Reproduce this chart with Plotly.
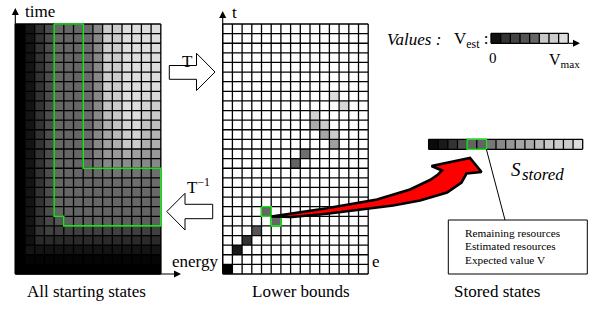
import plotly.graph_objects as go

# ---------------- data (gray level 0 = black ... 255 = white) ----------------
# "All starting states": 26 rows (top -> bottom) x 15 energy columns
start_values = [
    [0, 20, 51, 77, 102, 102, 102, 106, 136, 204, 204, 221, 221, 221, 221],
    [0, 20, 51, 77, 102, 102, 102, 106, 136, 204, 204, 221, 221, 221, 221],
    [0, 20, 51, 77, 102, 102, 102, 106, 136, 204, 204, 221, 221, 221, 221],
    [0, 20, 51, 77, 102, 102, 102, 106, 136, 204, 204, 221, 221, 221, 221],
    [0, 20, 51, 77, 102, 102, 102, 106, 136, 204, 204, 221, 221, 221, 221],
    [0, 20, 51, 77, 102, 102, 102, 106, 136, 204, 204, 221, 221, 221, 221],
    [0, 20, 51, 77, 102, 102, 102, 106, 136, 204, 204, 221, 221, 221, 221],
    [0, 20, 51, 77, 102, 102, 102, 106, 136, 200, 204, 221, 221, 215, 215],
    [0, 20, 51, 77, 102, 102, 102, 106, 136, 195, 204, 221, 221, 210, 204],
    [0, 20, 51, 77, 102, 102, 102, 106, 136, 187, 200, 218, 221, 204, 200],
    [0, 20, 51, 77, 102, 102, 102, 106, 136, 175, 195, 212, 218, 195, 190],
    [0, 20, 51, 77, 102, 102, 102, 106, 136, 165, 185, 204, 210, 185, 180],
    [0, 20, 51, 77, 102, 102, 102, 106, 136, 160, 175, 200, 204, 175, 175],
    [0, 20, 51, 77, 102, 102, 102, 106, 130, 150, 153, 170, 160, 153, 153],
    [0, 20, 51, 77, 102, 102, 102, 104, 119, 136, 136, 140, 136, 136, 136],
    [0, 20, 51, 77, 102, 102, 102, 102, 106, 110, 115, 110, 115, 110, 110],
    [0, 20, 51, 77, 102, 102, 102, 102, 102, 106, 106, 106, 110, 106, 106],
    [0, 20, 51, 77, 102, 102, 102, 102, 102, 102, 104, 104, 104, 104, 104],
    [0, 20, 51, 77, 102, 102, 102, 102, 102, 102, 102, 102, 102, 102, 102],
    [0, 20, 51, 77, 100, 100, 100, 100, 100, 100, 100, 100, 100, 100, 100],
    [0, 20, 51, 72, 85, 95, 95, 95, 95, 95, 95, 95, 95, 95, 95],
    [0, 20, 51, 64, 64, 64, 64, 64, 64, 64, 64, 64, 64, 64, 64],
    [0, 17, 42, 42, 42, 42, 42, 42, 42, 42, 42, 42, 42, 42, 42],
    [0, 20, 20, 20, 20, 20, 20, 20, 20, 20, 20, 20, 20, 20, 20],
    [0, 5, 5, 5, 5, 5, 5, 5, 5, 5, 5, 5, 5, 5, 5],
    [0, 0, 0, 0, 0, 0, 0, 0, 0, 0, 0, 0, 0, 0, 0],
]

# "Lower bounds": non-white cells (column, row from top, gray level)
lb_cols = [11, 12, 9, 9, 10, 10, 11, 11, 8, 7, 4, 5, 3, 2, 1, 0]
lb_rows = [7, 8, 9, 10, 10, 11, 11, 12, 13, 14, 19, 20, 21, 22, 23, 25]
lb_values = [220, 215, 210, 170, 204, 165, 204, 160, 110, 100, 102, 102, 85, 51, 26, 0]

# "Stored states" strip
stored_values = [10, 26, 51, 80, 100, 100, 119, 136, 150, 165, 170, 187, 200, 204, 204, 220]

# Value legend strip (V_est from 0 to V_max)
legend_values = [17, 51, 68, 85, 102, 200, 204, 221]

caption_labels = ["All starting states", "Lower bounds", "Stored states"]
box_lines = ["Remaining resources", "Estimated resources", "Expected value V"]

# ---------------- geometry / style ----------------
W, H = 605, 310
FONT = "Liberation Serif, Times New Roman, serif"
NCOL, NROW = 15, 26
CW, CH = 9.7, 250 / 26
LEFT_X0, MID_X0, GRID_Y0 = 15.3, 222.7, 24.0
STRIP_X0, STRIP_Y0, STRIP_CW, STRIP_H = 428.6, 139.3, 9.63, 10.0
LEG_X0, LEG_Y0, LEG_CW, LEG_H = 491.0, 33.3, 9.66, 10.0
GREEN = "#1ee01e"
GRAY = [[0, "#000000"], [1, "#ffffff"]]
LW = 1.3

fig = go.Figure()


def heat(z, x0, y0, cw, ch):
    fig.add_trace(go.Heatmap(z=z, x0=x0 + cw / 2, dx=cw, y0=y0 + ch / 2, dy=ch,
                             colorscale=GRAY, zmin=0, zmax=255, showscale=False,
                             hoverinfo="skip"))


def grid_lines(x0, y0, cw, ch, ncol, nrow, color="black", width=LW):
    xs, ys = [], []
    for i in range(ncol + 1):
        x = x0 + i * cw
        xs += [x, x, None]
        ys += [y0, y0 + nrow * ch, None]
    for j in range(nrow + 1):
        y = y0 + j * ch
        xs += [x0, x0 + ncol * cw, None]
        ys += [y, y, None]
    fig.add_trace(go.Scatter(x=xs, y=ys, mode="lines", line=dict(color=color, width=width),
                             hoverinfo="skip"))


def outline(verts, x0, y0, cw, ch, color=GREEN, width=1.6):
    fig.add_trace(go.Scatter(x=[x0 + c * cw for c, r in verts], y=[y0 + r * ch for c, r in verts],
                             mode="lines", line=dict(color=color, width=width), hoverinfo="skip"))


# left grid
heat(start_values, LEFT_X0, GRID_Y0, CW, CH)
grid_lines(LEFT_X0, GRID_Y0, CW, CH, NCOL, NROW)
outline([(4, 0), (7, 0), (7, 15), (15, 15), (15, 21), (5, 21), (5, 20), (4, 20), (4, 0)],
        LEFT_X0, GRID_Y0, CW, CH)

# middle grid
mid = [[255] * NCOL for _ in range(NROW)]
for c, r, v in zip(lb_cols, lb_rows, lb_values):
    mid[r][c] = v
heat(mid, MID_X0, GRID_Y0, CW, CH)
grid_lines(MID_X0, GRID_Y0, CW, CH, NCOL, NROW)
for c, r in [(4, 19), (5, 20)]:
    outline([(c, r), (c + 1, r), (c + 1, r + 1), (c, r + 1), (c, r)], MID_X0, GRID_Y0, CW, CH)

# stored strip
heat([stored_values], STRIP_X0, STRIP_Y0, STRIP_CW, STRIP_H)
grid_lines(STRIP_X0, STRIP_Y0, STRIP_CW, STRIP_H, len(stored_values), 1)
outline([(4, 0), (6, 0), (6, 1), (4, 1), (4, 0)], STRIP_X0, STRIP_Y0, STRIP_CW, STRIP_H)

# legend strip
heat([legend_values], LEG_X0, LEG_Y0, LEG_CW, LEG_H)
grid_lines(LEG_X0, LEG_Y0, LEG_CW, LEG_H, len(legend_values), 1)

# leader line strip -> box
fig.add_trace(go.Scatter(x=[STRIP_X0 + 6 * STRIP_CW, 505], y=[STRIP_Y0 + STRIP_H, 220],
                         mode="lines", line=dict(color="black", width=1), hoverinfo="skip"))

# red curved arrow
arrow_x = [271.5, 300, 327, 377, 410, 430, 438, 442, 431.5, 470, 481.5, 466.5, 461.5,
           447, 420, 393, 360, 327, 292, 271.5]
arrow_y = [216.5, 212.5, 208.3, 199.5, 189.5, 180, 174.5, 170.5, 166, 158, 172, 173.5, 182.5,
           192.5, 200.5, 205.5, 210, 213.8, 217, 216.5]
fig.add_trace(go.Scatter(x=arrow_x, y=arrow_y, mode="lines", fill="toself", fillcolor="#ff0000",
                         line=dict(color="black", width=2.6), hoverinfo="skip"))

# axis lines + arrowheads
axes_lines = [((LEFT_X0, GRID_Y0 + NROW * CH), (LEFT_X0, 12)),
              ((LEFT_X0, GRID_Y0 + NROW * CH), (176, GRID_Y0 + NROW * CH)),
              ((MID_X0, GRID_Y0 + NROW * CH), (MID_X0, 15)),
              ((LEG_X0 + 8 * LEG_CW, LEG_Y0 + LEG_H), (575, LEG_Y0 + LEG_H))]
for (xa, ya), (xb, yb) in axes_lines:
    fig.add_trace(go.Scatter(x=[xa, xb], y=[ya, yb], mode="lines",
                             line=dict(color="black", width=1.1), hoverinfo="skip"))
fig.add_trace(go.Scatter(x=[LEFT_X0, MID_X0], y=[8, 11], mode="markers",
                         marker=dict(symbol="arrow-up", size=7, color="black"), hoverinfo="skip"))
fig.add_trace(go.Scatter(x=[181, 580], y=[GRID_Y0 + NROW * CH, LEG_Y0 + LEG_H], mode="markers",
                         marker=dict(symbol="arrow-right", size=7, color="black"), hoverinfo="skip"))

shapes = []
# white block arrows T and T^-1
shapes.append(dict(type="path", xref="x", yref="y",
                   path="M169.3,65.5 L196.5,65.5 L196.5,53.3 L215,72 L196.5,90.5 L196.5,79.3 L169.3,79.3 Z",
                   fillcolor="white", line=dict(color="black", width=1)))
shapes.append(dict(type="path", xref="x", yref="y",
                   path="M212.7,204.3 L185,204.3 L185,193.3 L166.8,211.5 L185,230 L185,218.7 L212.7,218.7 Z",
                   fillcolor="white", line=dict(color="black", width=1)))
# info box
shapes.append(dict(type="rect", xref="x", yref="y", x0=448.3, x1=587.3, y0=220, y1=274,
                   fillcolor="white", line=dict(color="black", width=1)))

ann = []


def text(t, x, y, size=17, xanchor="center"):
    ann.append(dict(text=t, x=x, y=y, xref="x", yref="y", showarrow=False, xanchor=xanchor,
                    yanchor="middle", font=dict(family=FONT, size=size, color="black")))


text("time", 23, 11, xanchor="left")
text("energy", 170, 261, xanchor="left")
text("t", 230, 12, xanchor="left")
text("e", 376, 261)
text("T", 187, 61)
text("T<sup>−1</sup>", 198, 186)
text("<i>Values :</i>", 385, 39, xanchor="left")
text("V<sub>est</sub> :", 452, 40, xanchor="left")
text("0", 493, 58, size=15)
text("V<sub>max</sub>", 547, 60, size=16, xanchor="left")
text("<i>S</i>", 509, 169, size=19, xanchor="left")
text("<i>stored</i>", 520, 174, size=17, xanchor="left")
for i, line in enumerate(box_lines):
    text(line, 462.5, 232.5 + 13.8 * i, size=11.3, xanchor="left")
for label, xc in zip(caption_labels, [86, 301, 497]):
    text(label, xc, 291)

fig.update_layout(
    width=W, height=H, margin=dict(l=0, r=0, t=0, b=0),
    paper_bgcolor="white", plot_bgcolor="white", showlegend=False,
    xaxis=dict(range=[0, W], visible=False, fixedrange=True),
    yaxis=dict(range=[H, 0], visible=False, fixedrange=True),
    shapes=shapes, annotations=ann,
)

fig.write_html("out.html", config={"displayModeBar": False},
               post_script="document.body.style.margin='0px';")
